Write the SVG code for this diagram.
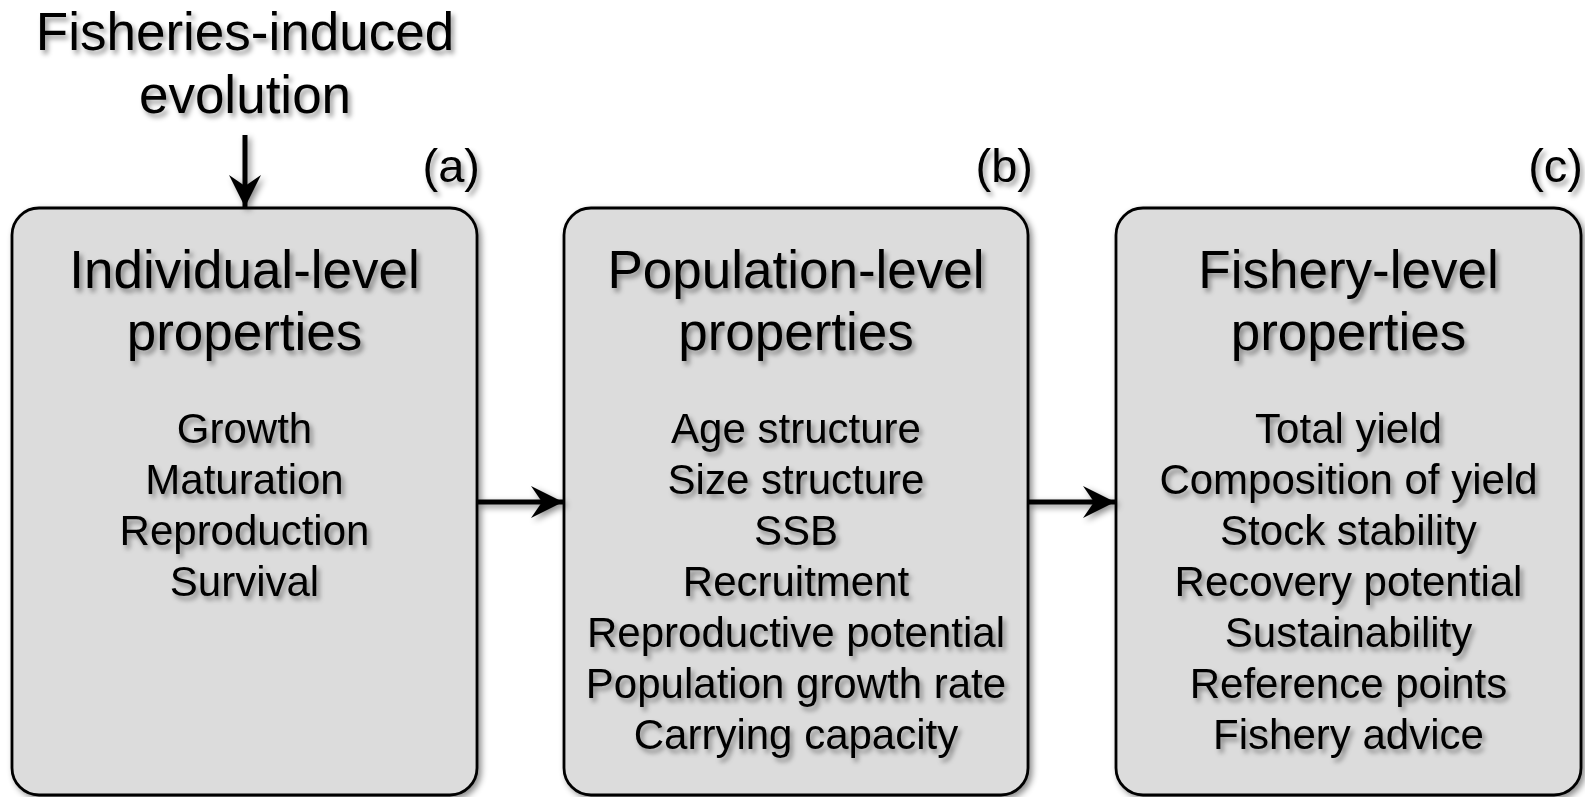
<svg xmlns="http://www.w3.org/2000/svg" width="1585" height="797" viewBox="0 0 1585 797">
<defs>
<filter id="sh" x="-10%" y="-10%" width="130%" height="130%">
<feDropShadow dx="3" dy="3" stdDeviation="3" flood-color="#000" flood-opacity="0.45"/>
</filter>
<filter id="lsh" filterUnits="userSpaceOnUse" x="0" y="0" width="1585" height="797">
<feDropShadow dx="3" dy="3" stdDeviation="3" flood-color="#000" flood-opacity="0.45"/>
</filter>
<filter id="tsh" x="-10%" y="-30%" width="130%" height="160%">
<feDropShadow dx="3" dy="4" stdDeviation="2.5" flood-color="#000" flood-opacity="0.4"/>
</filter>
<marker id="ah" markerUnits="userSpaceOnUse" markerWidth="34" markerHeight="34" viewBox="-33 -17 34 34" refX="0" refY="0" orient="auto">
<path d="M0,0 L-32,-16 L-21,0 L-32,16 Z" fill="#000"/>
</marker>
<style>
.box{fill:#dcdcdc;stroke:#000;stroke-width:2.8;filter:url(#sh)}
text{font-family:"Liberation Sans",Arial,sans-serif;fill:#000;text-anchor:middle;filter:url(#tsh)}
.title{font-size:53px}
.head{font-size:53px}
.item{font-size:42px}
.lab{font-size:47px;text-anchor:end}
.conn{stroke:#000;stroke-width:5;fill:none;marker-end:url(#ah)}
</style>
</defs>
<rect width="1585" height="797" fill="#fff"/>
<g id="title">
<text class="title" x="245" y="50">Fisheries-induced</text>
<text class="title" x="245" y="113">evolution</text>
</g>
<g id="node-a">
<rect class="box" x="12" y="208" width="465" height="587" rx="27"/>
<text class="lab" x="480" y="182">(a)</text>
<text class="head" x="244.5" y="288">Individual-level</text>
<text class="head" x="244.5" y="350">properties</text>
<text class="item" x="244.5" y="443">Growth</text>
<text class="item" x="244.5" y="494">Maturation</text>
<text class="item" x="244.5" y="545">Reproduction</text>
<text class="item" x="244.5" y="596">Survival</text>
</g>
<g id="node-b">
<rect class="box" x="564" y="208" width="464" height="587" rx="27"/>
<text class="lab" x="1033" y="182">(b)</text>
<text class="head" x="796" y="288">Population-level</text>
<text class="head" x="796" y="350">properties</text>
<text class="item" x="796" y="443">Age structure</text>
<text class="item" x="796" y="494">Size structure</text>
<text class="item" x="796" y="545">SSB</text>
<text class="item" x="796" y="596">Recruitment</text>
<text class="item" x="796" y="647">Reproductive potential</text>
<text class="item" x="796" y="698">Population growth rate</text>
<text class="item" x="796" y="749">Carrying capacity</text>
</g>
<g id="node-c">
<rect class="box" x="1116" y="208" width="465" height="587" rx="27"/>
<text class="lab" x="1583" y="182">(c)</text>
<text class="head" x="1348.5" y="288">Fishery-level</text>
<text class="head" x="1348.5" y="350">properties</text>
<text class="item" x="1348.5" y="443">Total yield</text>
<text class="item" x="1348.5" y="494">Composition of yield</text>
<text class="item" x="1348.5" y="545">Stock stability</text>
<text class="item" x="1348.5" y="596">Recovery potential</text>
<text class="item" x="1348.5" y="647">Sustainability</text>
<text class="item" x="1348.5" y="698">Reference points</text>
<text class="item" x="1348.5" y="749">Fishery advice</text>
</g>
<g id="connectors" filter="url(#lsh)">
<line class="conn" x1="245" y1="135" x2="245" y2="207"/>
<line class="conn" x1="477" y1="502" x2="563" y2="502"/>
<line class="conn" x1="1028" y1="502" x2="1115" y2="502"/>
</g>
</svg>
